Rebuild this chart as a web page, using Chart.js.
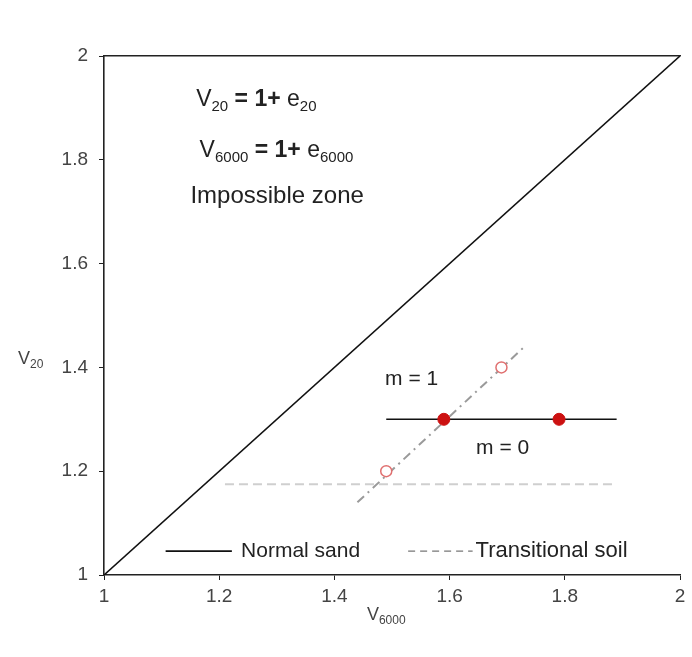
<!DOCTYPE html>
<html>
<head>
<meta charset="utf-8">
<script src="https://cdn.jsdelivr.net/npm/chart.js@4.4.1/dist/chart.umd.min.js"></script>
<style>
  html, body { margin: 0; padding: 0; background: #fff; }
  #wrap { width: 692px; height: 657px; }
</style>
</head>
<body>
<div id="wrap"><canvas id="chart" width="692" height="657"></canvas></div>
<script>
// axis range and ticks
const axisMin = 1;
const axisMax = 2;
const tickStep = 0.2;

// V20 = V6000 boundary (impossible zone above)
const boundaryX = [1, 2];
const boundaryY = [1, 2];

// normal sand, m = 0
const sandLineX = [1.49, 1.89];
const sandLineY = [1.30, 1.30];
const sandPointsX = [1.59, 1.79];
const sandPointsY = [1.30, 1.30];

// transitional soil, m = 1
const transLineX = [1.44, 1.73];
const transLineY = [1.14, 1.44];
const transPointsX = [1.49, 1.69];
const transPointsY = [1.20, 1.40];

// light dashed reference line
const refLineX = [1.21, 1.89];
const refLineY = [1.175, 1.175];

const toXY = (xs, ys) => xs.map((x, i) => ({ x: x, y: ys[i] }));

const textColor = '#222';
const tickColor = '#444';
const fontFamily = '"Liberation Sans", Arial, sans-serif';

// text with subscripts: parts = [[text, isSub, isBold], ...]
function drawRich(ctx, parts, x, y, size, align) {
    const subSize = Math.round(size * 0.66);
    const fontFor = p => (p[2] ? 'bold ' : '') + (p[1] ? subSize : size) + 'px ' + fontFamily;
    let total = 0;
    parts.forEach(p => {
        ctx.font = fontFor(p);
        total += ctx.measureText(p[0]).width;
    });
    let cx = align === 'center' ? x - total / 2 : x;
    parts.forEach(p => {
        ctx.font = fontFor(p);
        ctx.fillText(p[0], cx, p[1] ? y + size * 0.22 : y);
        cx += ctx.measureText(p[0]).width;
    });
}

const annotations = {
    id: 'annotations',
    afterDraw(chart) {
        const ctx = chart.ctx;
        const xs = chart.scales.x;
        const ys = chart.scales.y;
        ctx.save();
        ctx.fillStyle = textColor;
        ctx.textBaseline = 'alphabetic';
        ctx.textAlign = 'left';

        drawRich(ctx, [['V', false], ['20', true], [' = 1+', false, true], [' e', false], ['20', true]],
            xs.getPixelForValue(1.16), ys.getPixelForValue(1.903), 23, 'left');
        drawRich(ctx, [['V', false], ['6000', true], [' = 1+', false, true], [' e', false], ['6000', true]],
            xs.getPixelForValue(1.166), ys.getPixelForValue(1.806), 23, 'left');
        drawRich(ctx, [['Impossible zone', false]],
            xs.getPixelForValue(1.15), ys.getPixelForValue(1.717), 24, 'left');

        drawRich(ctx, [['m = 1', false]],
            xs.getPixelForValue(1.488), ys.getPixelForValue(1.366), 21, 'left');
        drawRich(ctx, [['m = 0', false]],
            xs.getPixelForValue(1.646), ys.getPixelForValue(1.233), 21, 'left');

        // axis titles
        ctx.fillStyle = tickColor;
        drawRich(ctx, [['V', false], ['20', true]], 18, ys.getPixelForValue(1.4) - 3, 18, 'left');
        drawRich(ctx, [['V', false], ['6000', true]], xs.getPixelForValue(1.49), 620, 18, 'center');

        // legend inside the plot
        const ly = ys.getPixelForValue(1.046);
        ctx.lineWidth = 1.6;
        ctx.strokeStyle = '#111';
        ctx.setLineDash([]);
        ctx.beginPath();
        ctx.moveTo(xs.getPixelForValue(1.107), ly);
        ctx.lineTo(xs.getPixelForValue(1.222), ly);
        ctx.stroke();
        ctx.fillStyle = textColor;
        ctx.textBaseline = 'middle';
        drawRich(ctx, [['Normal sand', false]], xs.getPixelForValue(1.238), ly, 21, 'left');

        ctx.strokeStyle = '#777';
        ctx.lineWidth = 1.3;
        ctx.setLineDash([7, 5]);
        ctx.beginPath();
        ctx.moveTo(xs.getPixelForValue(1.528), ly);
        ctx.lineTo(xs.getPixelForValue(1.64), ly);
        ctx.stroke();
        ctx.setLineDash([]);
        drawRich(ctx, [['Transitional soil', false]], xs.getPixelForValue(1.645), ly, 22, 'left');
        ctx.restore();
    }
};

const tickLabel = v => String(Math.round(v * 10) / 10);

new Chart(document.getElementById('chart'), {
    type: 'scatter',
    data: {
        datasets: [
            {
                label: 'm = 0 points',
                data: toXY(sandPointsX, sandPointsY),
                backgroundColor: '#cc1111',
                borderColor: '#cc1111',
                pointRadius: 6,
                order: 0
            },
            {
                label: 'm = 1 points',
                data: toXY(transPointsX, transPointsY),
                backgroundColor: '#ffffff',
                borderColor: '#e07070',
                borderWidth: 1.5,
                pointRadius: 5.5,
                order: 0
            },
            {
                label: 'Boundary',
                data: toXY(boundaryX, boundaryY),
                showLine: true,
                borderColor: '#111',
                borderWidth: 1.6,
                pointRadius: 0,
                order: 1
            },
            {
                label: 'Normal sand',
                data: toXY(sandLineX, sandLineY),
                showLine: true,
                borderColor: '#111',
                borderWidth: 1.6,
                pointRadius: 0,
                order: 1
            },
            {
                label: 'Transitional soil',
                data: toXY(transLineX, transLineY),
                showLine: true,
                borderColor: '#9a9a9a',
                borderWidth: 2,
                borderDash: [9, 5, 2, 5],
                pointRadius: 0,
                order: 2
            },
            {
                label: 'Reference',
                data: toXY(refLineX, refLineY),
                showLine: true,
                borderColor: '#cfcfcf',
                borderWidth: 2,
                borderDash: [9, 5],
                pointRadius: 0,
                order: 2
            }
        ]
    },
    options: {
        responsive: false,
        animation: false,
        layout: { padding: { top: 56, right: 12, left: 0, bottom: 0 } },
        plugins: {
            legend: { display: false },
            tooltip: { enabled: false }
        },
        scales: {
            x: {
                type: 'linear',
                min: axisMin,
                max: axisMax,
                ticks: {
                    stepSize: tickStep,
                    color: tickColor,
                    font: { family: fontFamily, size: 19 },
                    padding: 5,
                    callback: tickLabel
                },
                grid: { drawOnChartArea: false, tickLength: 5, color: '#222' },
                border: { color: '#222', width: 1.6 },
                afterFit(scale) { scale.height = 82; }
            },
            x2: {
                type: 'linear',
                position: 'top',
                min: axisMin,
                max: axisMax,
                ticks: { display: false },
                grid: { display: false },
                border: { color: '#222', width: 1.6 },
                afterFit(scale) { scale.height = 0; }
            },
            y: {
                type: 'linear',
                min: axisMin,
                max: axisMax,
                ticks: {
                    stepSize: tickStep,
                    color: tickColor,
                    font: { family: fontFamily, size: 19 },
                    padding: 11,
                    callback: tickLabel
                },
                grid: { drawOnChartArea: false, tickLength: 5, color: '#222' },
                border: { color: '#222', width: 1.6 },
                afterFit(scale) { scale.width = 104; }
            }
        }
    },
    plugins: [annotations]
});
</script>
</body>
</html>
